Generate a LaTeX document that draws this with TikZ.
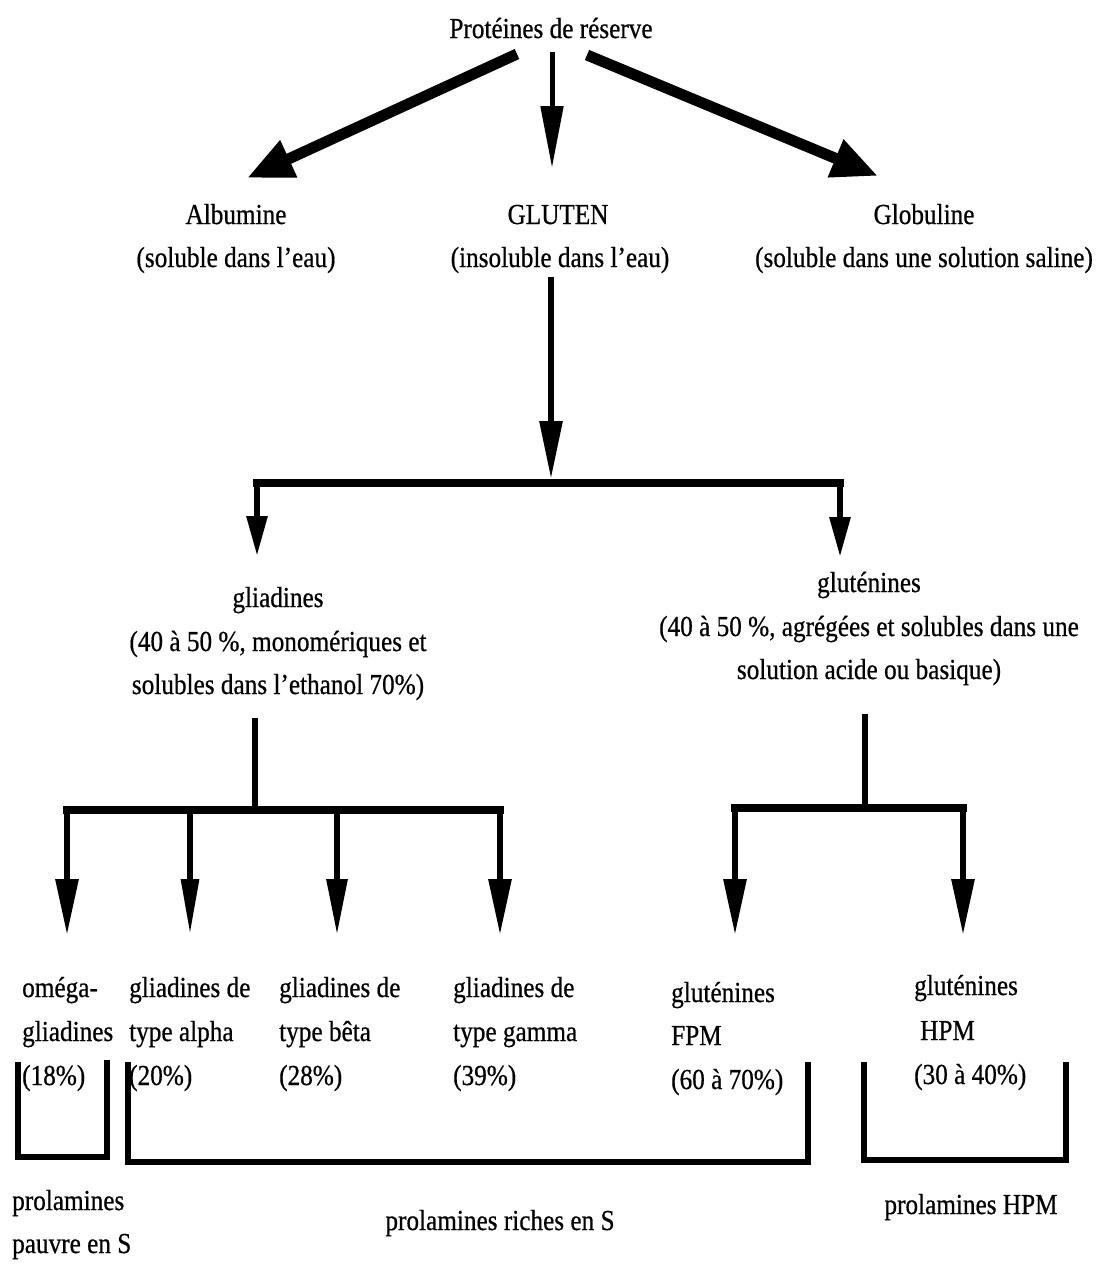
\documentclass[tikz,border=0pt]{standalone}
\usepackage{fontspec}
\setmainfont{Liberation Serif}[FakeStretch=0.87,FakeBold=0.6]
\usetikzlibrary{arrows.meta}
\begin{document}
\begin{tikzpicture}[x=1pt,y=-1pt,
  txt/.style={font=\fontsize{29}{43.5}\selectfont, inner sep=0pt, anchor=base},
  txtl/.style={txt, anchor=base west},
  bigarrow/.style={line width=11pt, -{Triangle[length=46pt,width=38pt]}},
  midarrow/.style={line width=5pt, -{Triangle[length=62pt,width=22pt]}},
  droparrow/.style={line width=6pt, -{Triangle[length=40pt,width=20pt]}},
  lowarrow/.style={line width=6pt, -{Triangle[length=56pt,width=22pt]}},
  barline/.style={line width=8pt, line cap=rect},
  stemline/.style={line width=6pt},
  bracketline/.style={line width=6pt, line join=miter}
]
\useasboundingbox (0,0) rectangle (1107,1264);

% texts
\node[txt] (prot) at (551,38) {Protéines de réserve};
\node[txt] (alb1) at (236,224) {Albumine};
\node[txt] (alb2) at (236,267) {(soluble dans l'eau)};
\node[txt] (glu1) at (558,224) {GLUTEN};
\node[txt] (glu2) at (560,267) {(insoluble dans l'eau)};
\node[txt] (glo1) at (924,224) {Globuline};
\node[txt] (glo2) at (924,267) {(soluble dans une solution saline)};

\node[txt] (gli1) at (278,607) {gliadines};
\node[txt] (gli2) at (278,651) {(40 à 50 \%, monomériques et};
\node[txt] (gli3) at (278,694) {solubles dans l'ethanol 70\%)};
\node[txt] (glt1) at (869,592) {gluténines};
\node[txt] (glt2) at (869,636) {(40 à 50 \%, agrégées et solubles dans une};
\node[txt] (glt3) at (869,679) {solution acide ou basique)};

\node[txtl] (om1) at (22,997) {oméga-};
\node[txtl] (om2) at (22,1041) {gliadines};
\node[txtl] (om3) at (22,1085) {(18\%)};
\node[txtl] (al1) at (129,997) {gliadines de};
\node[txtl] (al2) at (129,1041) {type alpha};
\node[txtl] (al3) at (129,1085) {(20\%)};
\node[txtl] (be1) at (279,997) {gliadines de};
\node[txtl] (be2) at (279,1041) {type bêta};
\node[txtl] (be3) at (279,1085) {(28\%)};
\node[txtl] (ga1) at (453,997) {gliadines de};
\node[txtl] (ga2) at (453,1041) {type gamma};
\node[txtl] (ga3) at (453,1085) {(39\%)};
\node[txtl] (fp1) at (671,1002) {gluténines};
\node[txtl] (fp2) at (671,1045) {FPM};
\node[txtl] (fp3) at (671,1089) {(60 à 70\%)};
\node[txtl] (hp1) at (914,995) {gluténines};
\node[txtl] (hp2) at (920,1040) {HPM};
\node[txtl] (hp3) at (914,1084) {(30 à 40\%)};

\node[txtl] (pp1) at (12,1210) {prolamines};
\node[txtl] (pp2) at (12,1253) {pauvre en S};
\node[txt] (pr) at (500,1230) {prolamines riches en S};
\node[txt] (ph) at (971,1214) {prolamines HPM};

% coordinates for connectors
\coordinate (pL) at (517,54);
\coordinate (pM) at (552,52);
\coordinate (pR) at (587,55);
\coordinate (tL) at (247,178);
\coordinate (tM) at (552,168);
\coordinate (tR) at (878,176);

\coordinate (gs) at (551,277);
\coordinate (gj) at (551,479);
\coordinate (b1L) at (257,483);
\coordinate (b1R) at (840,483);
\coordinate (t1L) at (257,556);
\coordinate (t1R) at (840,557);

\coordinate (lS) at (255,718);
\coordinate (lJ) at (255,810);
\coordinate (lb1) at (67,810);
\coordinate (lb2) at (190,810);
\coordinate (lb3) at (337,810);
\coordinate (lb4) at (500,810);
\coordinate (lt1) at (67,935);
\coordinate (lt2) at (190,935);
\coordinate (lt3) at (337,935);
\coordinate (lt4) at (500,935);

\coordinate (rS) at (865,714);
\coordinate (rJ) at (865,808);
\coordinate (rb1) at (735,808);
\coordinate (rb2) at (963,808);
\coordinate (rt1) at (735,935);
\coordinate (rt2) at (963,935);

% top arrows
\draw[bigarrow] (pL) -- (tL);
\draw[midarrow] (pM) -- (tM);
\draw[bigarrow] (pR) -- (tR);

% gluten branch
\draw[midarrow, line width=6pt, -{Triangle[length=58pt,width=22pt]}] (gs) -- (gj);
\draw[barline] (b1L) -- (b1R);
\draw[droparrow] (b1L) -- (t1L);
\draw[droparrow] (b1R) -- (t1R);

% gliadines branch
\draw[stemline] (lS) -- (lJ);
\draw[barline] (lb1) -- (lb4);
\draw[lowarrow] (lb1) -- (lt1);
\draw[lowarrow, -{Triangle[length=56pt,width=17pt]}] (lb2) -- (lt2);
\draw[lowarrow, -{Triangle[length=56pt,width=20pt]}] (lb3) -- (lt3);
\draw[lowarrow] (lb4) -- (lt4);

% glutenines branch
\draw[stemline] (rS) -- (rJ);
\draw[barline] (rb1) -- (rb2);
\draw[lowarrow] (rb1) -- (rt1);
\draw[lowarrow] (rb2) -- (rt2);

% brackets
\draw[bracketline] (18,1062) -- (18,1157) -- (107,1157) -- (107,1060);
\draw[bracketline] (128,1062) -- (128,1162) -- (808,1162) -- (808,1062);
\draw[bracketline] (864,1062) -- (864,1160) -- (1066,1160) -- (1066,1062);
\end{tikzpicture}
\end{document}
